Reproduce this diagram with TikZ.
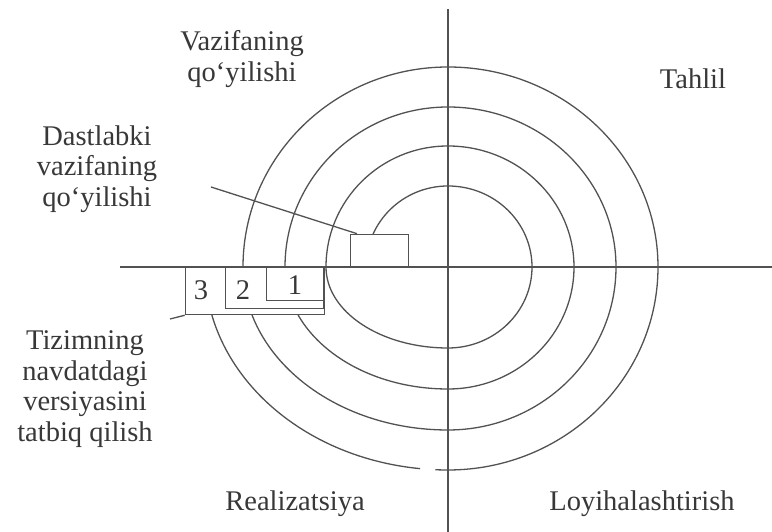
\documentclass[tikz,border=0pt]{standalone}
\usepackage{fontspec}
\setmainfont{Liberation Serif}
\usetikzlibrary{calc}
\begin{document}
\begin{tikzpicture}[x=1pt,y=1pt,
  ln/.style={draw=black!68, line width=1.3pt},
  lbl/.style={text=black!78, font=\fontsize{28.5}{30.5}\selectfont, align=center, inner sep=0pt, anchor=north},
  num/.style={text=black!78, font=\fontsize{28.5}{30.5}\selectfont, inner sep=0pt, anchor=base},
  bx/.style={ln, fill=white, rectangle, inner sep=0pt}
]
\useasboundingbox (0,0) rectangle (772,532);
\coordinate (C) at (448,265);
\coordinate (axL) at (120,265);
\coordinate (axR) at (772,265);
\coordinate (axT) at (448,523);
\coordinate (axB) at (448,0);
\draw[ln] (axL) -- (axR);
\draw[ln] (axT) -- (axB);

% spiral
\draw[ln] ($(C)+(-82,0)$)
  arc[start angle=180,end angle=90,x radius=82,y radius=81]
  arc[start angle=90,end angle=0,x radius=84,y radius=81]
  arc[start angle=0,end angle=-90,x radius=84,y radius=81]
  arc[start angle=-90,end angle=-180,x radius=122,y radius=81]
  arc[start angle=180,end angle=90,x radius=122,y radius=121]
  arc[start angle=90,end angle=0,x radius=126,y radius=121]
  arc[start angle=0,end angle=-90,x radius=126,y radius=122]
  arc[start angle=-90,end angle=-180,x radius=163,y radius=122]
  arc[start angle=180,end angle=90,x radius=163,y radius=160]
  arc[start angle=90,end angle=0,x radius=168,y radius=160]
  arc[start angle=0,end angle=-90,x radius=168,y radius=163]
  arc[start angle=-90,end angle=-180,x radius=205,y radius=163]
  arc[start angle=180,end angle=90,x radius=205,y radius=200]
  arc[start angle=90,end angle=0,x radius=210,y radius=200]
  arc[start angle=0,end angle=-90,x radius=210,y radius=203]
  arc[start angle=-90,end angle=-93,x radius=243,y radius=203];
\draw[ln] ($(C)+({243*cos(-96.6)},{203*sin(-96.6)})$)
  arc[start angle=-96.6,end angle=-180,x radius=243,y radius=203];

% boxes
\node[bx, minimum width=139, minimum height=47, anchor=north east] (b3) at (325,265) {};
\node[bx, minimum width=98, minimum height=41, anchor=north east] (b2) at (324,265) {};
\node[bx, minimum width=57, minimum height=33, anchor=north east] (b1) at (324,265) {};
\node[bx, minimum width=58, minimum height=32, anchor=south west] (b0) at (350,265) {};

\node[num] (n3) at (201,232) {3};
\node[num] (n2) at (243,232) {2};
\node[num] (n1) at (295,237) {1};

% labels
\node[lbl] (vq) at (242,501.5) {Vazifaning\\qo‘yilishi};
\node[lbl] (dv) at (97,406.5) {Dastlabki\\vazifaning\\qo‘yilishi};
\node[lbl] (tz) at (85,201.5) {Tizimning\\navdatdagi\\versiyasini\\tatbiq qilish};
\node[lbl] (th) at (693,463.5) {Tahlil};
\node[lbl] (rl) at (295,41.5) {Realizatsiya};
\node[lbl] (ly) at (642,41.5) {Loyihalashtirish};

% leaders
\coordinate (d1) at (211,345);
\draw[ln] (d1) -- ($(b0.north west)+(7,0)$);
\coordinate (t1) at (170,213);
\draw[ln] (t1) -- (b3.south west);
\end{tikzpicture}
\end{document}
